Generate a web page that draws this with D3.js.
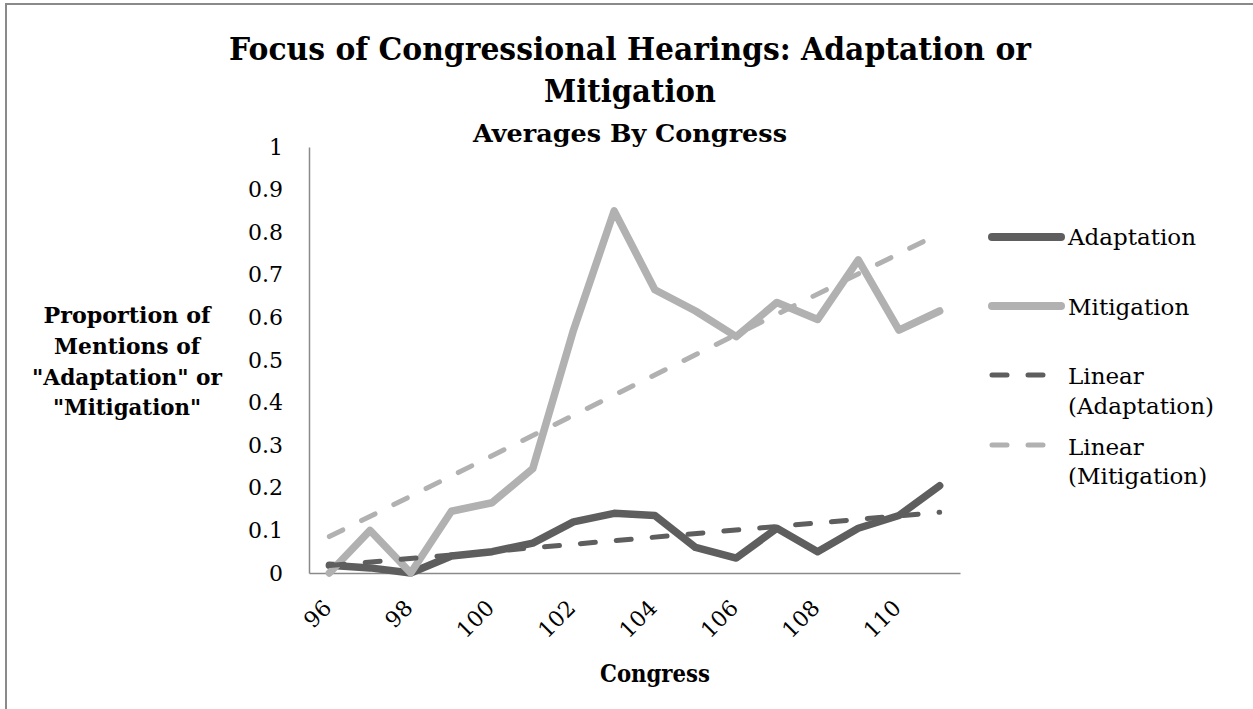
<!DOCTYPE html>
<html>
<head>
<meta charset="utf-8">
<script src="https://cdn.jsdelivr.net/npm/d3@7"></script>
<style>
  html, body { margin: 0; padding: 0; background: #fff; }
  svg { display: block; }
  text { font-family: "DejaVu Serif", "Liberation Serif", serif; fill: #000; }
</style>
</head>
<body>
<svg id="chart" width="1253" height="709"></svg>
<script>
// ---------------- data ----------------
const congresses = [96, 97, 98, 99, 100, 101, 102, 103, 104, 105, 106, 107, 108, 109, 110, 111];
const adaptation = [0.018, 0.012, 0.0, 0.04, 0.05, 0.07, 0.12, 0.14, 0.135, 0.06, 0.035, 0.105, 0.05, 0.105, 0.135, 0.205];
const mitigation = [0.0, 0.10, 0.0, 0.145, 0.165, 0.245, 0.57, 0.85, 0.665, 0.615, 0.555, 0.635, 0.595, 0.735, 0.57, 0.615];
const xTickLabels = ["96", "98", "100", "102", "104", "106", "108", "110"];
const yTicks = [0, 0.1, 0.2, 0.3, 0.4, 0.5, 0.6, 0.7, 0.8, 0.9, 1];
const titleLines = ["Focus of Congressional Hearings: Adaptation or", "Mitigation"];
const subtitle = "Averages By Congress";
const yTitleLines = ["Proportion of", "Mentions of", "\"Adaptation\" or", "\"Mitigation\""];
const xTitle = "Congress";
const legendLabels = [["Adaptation"], ["Mitigation"], ["Linear", "(Adaptation)"], ["Linear", "(Mitigation)"]];

// ---------------- layout ----------------
const W = 1253, H = 709;
const plot = { left: 309, right: 960, top: 147, bottom: 573 };
const colDark = "#5e5e5e", colLight = "#b1b1b1", axisCol = "#8a8a8a";

const svg = d3.select("#chart");
svg.append("rect").attr("width", W).attr("height", H).attr("fill", "#fff");
// outer frame (only top/left visible in reference)
svg.append("rect").attr("x", 6).attr("y", 4).attr("width", W + 20).attr("height", H + 20)
  .attr("fill", "none").attr("stroke", axisCol).attr("stroke-width", 2);

const x = d3.scaleBand().domain(congresses).range([plot.left, plot.right]).padding(0);
const y = d3.scaleLinear().domain([0, 1]).range([plot.bottom, plot.top]);
const cx = c => x(c) + x.bandwidth() / 2;

function fit(sel, w) {
  sel.attr("textLength", w).attr("lengthAdjust", "spacingAndGlyphs");
}

// ---------------- titles ----------------
const tcx = 630;
svg.append("text").attr("x", tcx).attr("y", 60).attr("text-anchor", "middle")
  .style("font-size", "32px").style("font-weight", "bold").text(titleLines[0]).call(fit, 802);
svg.append("text").attr("x", tcx).attr("y", 102).attr("text-anchor", "middle")
  .style("font-size", "32px").style("font-weight", "bold").text(titleLines[1]).call(fit, 172);
svg.append("text").attr("x", tcx).attr("y", 142).attr("text-anchor", "middle")
  .style("font-size", "25px").style("font-weight", "bold").text(subtitle).call(fit, 314);

// ---------------- y axis ----------------
const yAxis = d3.axisLeft(y).tickValues(yTicks).tickSize(0).tickPadding(26)
  .tickFormat(d => String(+d.toFixed(1)));
const gy = svg.append("g").attr("transform", `translate(${plot.left},0)`).call(yAxis);
gy.select(".domain").attr("stroke", axisCol).attr("stroke-width", 1.5);
gy.selectAll("text").style("font-size", "22px").style("font-family", "\"DejaVu Serif\", serif").attr("fill", "#000");

// ---------------- x axis ----------------
const xAxis = d3.axisBottom(x).tickSize(0).tickFormat(() => "");
const gx = svg.append("g").attr("transform", `translate(0,${plot.bottom})`).call(xAxis);
gx.select(".domain").attr("stroke", axisCol).attr("stroke-width", 1.5);
gx.selectAll(".tick").remove();

svg.append("g").selectAll("text").data(xTickLabels).join("text")
  .attr("transform", d => `translate(${cx(+d) - 2},${plot.bottom + 31}) rotate(-45)`)
  .attr("text-anchor", "end").attr("dy", "0.35em")
  .style("font-size", "22px").text(d => d);

// axis titles
const yt = svg.append("g");
const ytBase = [323, 354, 385, 415];
const ytW = [167, 146, 190, 148];
yTitleLines.forEach((s, i) => {
  yt.append("text").attr("x", 127).attr("y", ytBase[i]).attr("text-anchor", "middle")
    .style("font-size", "23px").style("font-weight", "bold").text(s).call(fit, ytW[i]);
});
svg.append("text").attr("x", 655).attr("y", 682).attr("text-anchor", "middle")
  .style("font-size", "24px").style("font-weight", "bold").text(xTitle).call(fit, 110);

// ---------------- series ----------------
const line = d3.line().x((d, i) => cx(congresses[i])).y(d => y(d));
function trend(vals) {
  const n = vals.length;
  const xs = vals.map((v, i) => i + 1);
  const mx = d3.mean(xs), my = d3.mean(vals);
  const b = d3.sum(xs.map((xx, i) => (xx - mx) * (vals[i] - my))) / d3.sum(xs.map(xx => (xx - mx) ** 2));
  const a = my - b * mx;
  return [[congresses[0], a + b * 1], [congresses[n - 1], a + b * n]];
}
const trendLine = d3.line().x(d => cx(d[0])).y(d => y(d[1]));

const series = [
  { vals: adaptation, color: colDark },
  { vals: mitigation, color: colLight }
];
series.forEach(s => {
  svg.append("path").datum(s.vals).attr("d", line).attr("fill", "none")
    .attr("stroke", s.color).attr("stroke-width", 7.5)
    .attr("stroke-linejoin", "round").attr("stroke-linecap", "round");
});
series.forEach(s => {
  svg.append("path").datum(trend(s.vals)).attr("d", trendLine).attr("fill", "none")
    .attr("stroke", s.color).attr("stroke-width", 5)
    .attr("stroke-dasharray", "15,21").attr("stroke-linecap", "round");
});

// ---------------- legend ----------------
const legY = [237, 306, 375, 445];
const legText = [[245], [315], [384, 414], [455, 484]];
const legStyle = [
  { color: colDark, dash: null, w: 8 },
  { color: colLight, dash: null, w: 8 },
  { color: colDark, dash: "15,21", w: 5 },
  { color: colLight, dash: "15,21", w: 5 }
];
const leg = svg.append("g");
legendLabels.forEach((lbl, i) => {
  const st = legStyle[i];
  const p = leg.append("line").attr("x1", 992).attr("x2", 1061)
    .attr("y1", legY[i]).attr("y2", legY[i])
    .attr("stroke", st.color).attr("stroke-width", st.w).attr("stroke-linecap", "round");
  if (st.dash) p.attr("stroke-dasharray", st.dash);
  lbl.forEach((s, j) => {
    leg.append("text").attr("x", 1068).attr("y", legText[i][j])
      .style("font-size", "23px").text(s);
  });
});
</script>
</body>
</html>
